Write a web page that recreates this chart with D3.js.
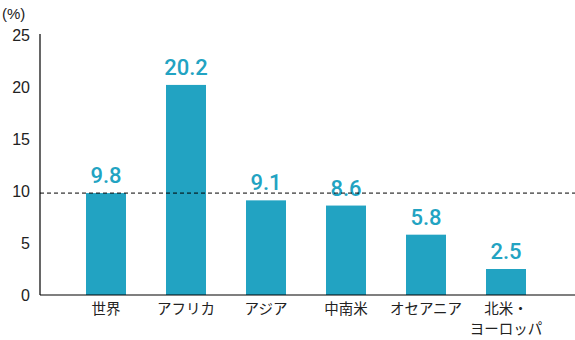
<!DOCTYPE html>
<html><head><meta charset="utf-8">
<script src="https://cdn.jsdelivr.net/npm/d3@7"></script>
<style>body{margin:0;background:#fff}svg{display:block}</style>
</head><body>
<svg id="c" width="575" height="340"></svg>
<script>
const categories = ["世界", "アフリカ", "アジア", "中南米", "オセアニア", "北米・\nヨーロッパ"];
const values = [9.8, 20.2, 9.1, 8.6, 5.8, 2.5];
const valueLabels = ["9.8", "20.2", "9.1", "8.6", "5.8", "2.5"];
const yTicks = [0, 5, 10, 15, 20, 25];
const refValue = 9.8;

const svg = d3.select("#c");
const font = "'Noto Sans CJK JP', 'Noto Sans', sans-serif";
const numFont = "'Liberation Sans', Arial, sans-serif";
const color = "#22a3c2";
const y = d3.scaleLinear().domain([0, 25]).range([295, 35]);
const x = d3.scaleBand().domain(categories).range([66, 546]).paddingInner(0.5).paddingOuter(0.25);

// y axis
const yAxis = svg.append("g").attr("transform", "translate(40,0)")
  .call(d3.axisLeft(y).tickValues(yTicks).tickSize(0).tickPadding(10));
yAxis.select(".domain").attr("stroke", "#000").attr("stroke-width", 1.2).attr("d", `M0,${y(25)-1}V${y(0)}`);
yAxis.selectAll("text").attr("font-family", numFont).attr("font-size", 16).attr("fill", "#222");

svg.append("text").attr("x", 2).attr("y", 19).text("(%)")
  .attr("font-family", numFont).attr("font-size", 15).attr("fill", "#222");

// bars
svg.selectAll("rect.bar").data(values).join("rect").attr("class", "bar")
  .attr("x", (d, i) => x(categories[i])).attr("width", x.bandwidth())
  .attr("y", d => y(d)).attr("height", d => y(0) - y(d)).attr("fill", color);

// value labels
svg.selectAll("text.val").data(values).join("text").attr("class", "val")
  .attr("x", (d, i) => x(categories[i]) + x.bandwidth() / 2)
  .attr("y", d => y(d) - 10).attr("text-anchor", "middle")
  .attr("font-family", "Roboto, sans-serif").attr("font-size", 22).attr("font-weight", 500).attr("fill", color)
  .text((d, i) => valueLabels[i]);

// reference line
svg.append("line").attr("x1", 40).attr("x2", 575).attr("y1", y(refValue)).attr("y2", y(refValue))
  .attr("stroke", "#000").attr("stroke-width", 1).attr("stroke-dasharray", "4,3");

// x axis
const xAxis = svg.append("g").attr("transform", `translate(0,${y(0)})`)
  .call(d3.axisBottom(x).tickSize(0).tickFormat(""));
xAxis.select(".domain").attr("stroke", "#000").attr("stroke-width", 1.2).attr("d", "M40,0H575");
xAxis.selectAll(".tick").each(function(d) {
  const lines = d.split("\n");
  const t = d3.select(this).append("text").attr("text-anchor", "middle")
    .attr("font-family", font).attr("font-size", 14.5).attr("fill", "#222").attr("font-weight", 400);
  lines.forEach((l, i) => t.append("tspan").attr("x", 0).attr("y", 19 + i * 20).text(l));
});
</script>
</body></html>
